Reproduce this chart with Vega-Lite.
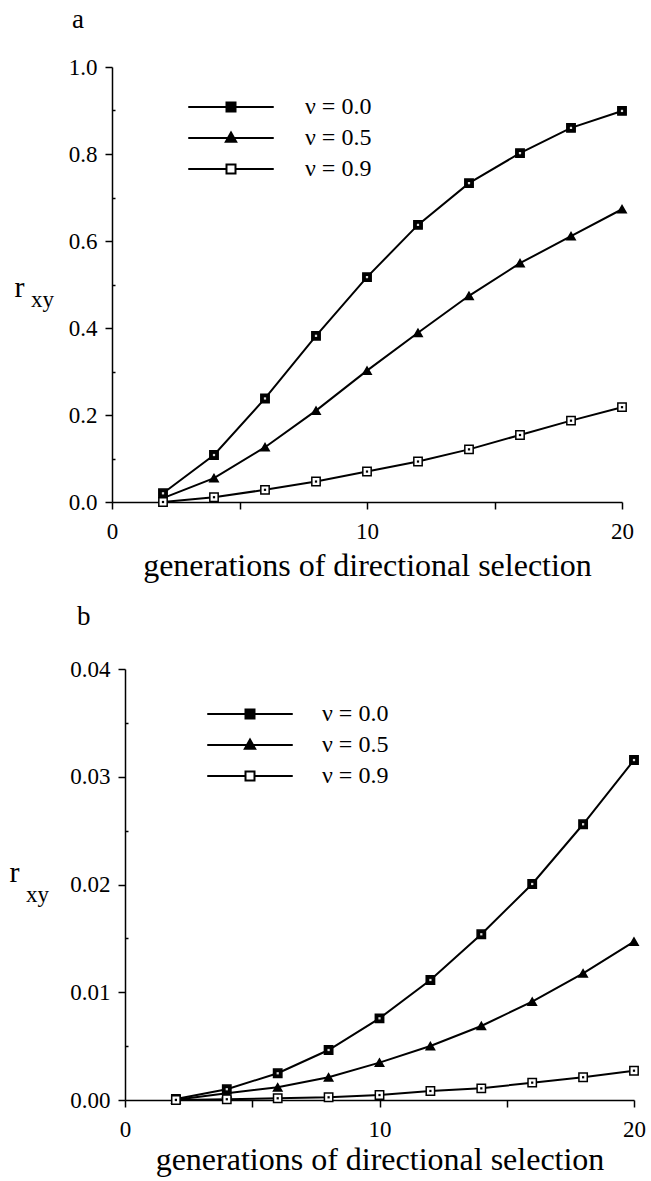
{
  "$schema": "https://vega.github.io/schema/vega-lite/v6.json",
  "background": "white",
  "padding": {"left": 9, "top": 6, "right": 5, "bottom": 5},
  "config": {
    "font": "Liberation Serif",
    "view": {"stroke": null},
    "axis": {"grid": false, "domainColor": "black", "domainWidth": 1.5, "tickColor": "black", "tickWidth": 1.5, "labelColor": "black", "titleColor": "black", "labelFont": "Liberation Serif", "titleFont": "Liberation Serif", "titleFontWeight": "normal"},
    "title": {"font": "Liberation Serif", "fontWeight": "normal", "color": "black"},
    "legend": {"labelFont": "Liberation Serif", "labelColor": "black"}
  },
  "datasets": {
    "a": [
      {"gen": 2, "r": 0.020, "series": "ν = 0.0"},
      {"gen": 4, "r": 0.108, "series": "ν = 0.0"},
      {"gen": 6, "r": 0.238, "series": "ν = 0.0"},
      {"gen": 8, "r": 0.382, "series": "ν = 0.0"},
      {"gen": 10, "r": 0.517, "series": "ν = 0.0"},
      {"gen": 12, "r": 0.637, "series": "ν = 0.0"},
      {"gen": 14, "r": 0.733, "series": "ν = 0.0"},
      {"gen": 16, "r": 0.802, "series": "ν = 0.0"},
      {"gen": 18, "r": 0.860, "series": "ν = 0.0"},
      {"gen": 20, "r": 0.899, "series": "ν = 0.0"},
      {"gen": 2, "r": 0.009, "series": "ν = 0.5"},
      {"gen": 4, "r": 0.055, "series": "ν = 0.5"},
      {"gen": 6, "r": 0.126, "series": "ν = 0.5"},
      {"gen": 8, "r": 0.210, "series": "ν = 0.5"},
      {"gen": 10, "r": 0.302, "series": "ν = 0.5"},
      {"gen": 12, "r": 0.389, "series": "ν = 0.5"},
      {"gen": 14, "r": 0.474, "series": "ν = 0.5"},
      {"gen": 16, "r": 0.549, "series": "ν = 0.5"},
      {"gen": 18, "r": 0.611, "series": "ν = 0.5"},
      {"gen": 20, "r": 0.673, "series": "ν = 0.5"},
      {"gen": 2, "r": 0.000, "series": "ν = 0.9"},
      {"gen": 4, "r": 0.011, "series": "ν = 0.9"},
      {"gen": 6, "r": 0.028, "series": "ν = 0.9"},
      {"gen": 8, "r": 0.047, "series": "ν = 0.9"},
      {"gen": 10, "r": 0.070, "series": "ν = 0.9"},
      {"gen": 12, "r": 0.093, "series": "ν = 0.9"},
      {"gen": 14, "r": 0.121, "series": "ν = 0.9"},
      {"gen": 16, "r": 0.154, "series": "ν = 0.9"},
      {"gen": 18, "r": 0.187, "series": "ν = 0.9"},
      {"gen": 20, "r": 0.218, "series": "ν = 0.9"}
    ],
    "b": [
      {"gen": 2, "r": 0.0001, "series": "ν = 0.0"},
      {"gen": 4, "r": 0.0010, "series": "ν = 0.0"},
      {"gen": 6, "r": 0.00248, "series": "ν = 0.0"},
      {"gen": 8, "r": 0.00464, "series": "ν = 0.0"},
      {"gen": 10, "r": 0.00758, "series": "ν = 0.0"},
      {"gen": 12, "r": 0.01114, "series": "ν = 0.0"},
      {"gen": 14, "r": 0.01538, "series": "ν = 0.0"},
      {"gen": 16, "r": 0.02005, "series": "ν = 0.0"},
      {"gen": 18, "r": 0.02559, "series": "ν = 0.0"},
      {"gen": 20, "r": 0.03155, "series": "ν = 0.0"},
      {"gen": 2, "r": 0.00003, "series": "ν = 0.5"},
      {"gen": 4, "r": 0.00062, "series": "ν = 0.5"},
      {"gen": 6, "r": 0.00118, "series": "ν = 0.5"},
      {"gen": 8, "r": 0.00211, "series": "ν = 0.5"},
      {"gen": 10, "r": 0.00347, "series": "ν = 0.5"},
      {"gen": 12, "r": 0.00501, "series": "ν = 0.5"},
      {"gen": 14, "r": 0.00687, "series": "ν = 0.5"},
      {"gen": 16, "r": 0.00913, "series": "ν = 0.5"},
      {"gen": 18, "r": 0.01176, "series": "ν = 0.5"},
      {"gen": 20, "r": 0.01470, "series": "ν = 0.5"},
      {"gen": 2, "r": 0.0, "series": "ν = 0.9"},
      {"gen": 4, "r": 0.00007, "series": "ν = 0.9"},
      {"gen": 6, "r": 0.00016, "series": "ν = 0.9"},
      {"gen": 8, "r": 0.00025, "series": "ν = 0.9"},
      {"gen": 10, "r": 0.00046, "series": "ν = 0.9"},
      {"gen": 12, "r": 0.00084, "series": "ν = 0.9"},
      {"gen": 14, "r": 0.00108, "series": "ν = 0.9"},
      {"gen": 16, "r": 0.00161, "series": "ν = 0.9"},
      {"gen": 18, "r": 0.00211, "series": "ν = 0.9"},
      {"gen": 20, "r": 0.00272, "series": "ν = 0.9"}
    ]
  },
  "columns": 1,
  "spacing": 22,
  "resolve": {"scale": {"shape": "independent", "fill": "independent", "color": "independent"}},
  "concat": [
    {
      "title": {"text": "a", "anchor": "start", "frame": "group", "fontSize": 27, "dx": -40, "offset": 22},
      "width": 510,
      "height": 435,
      "data": {"name": "a"},
      "layer": [
        {
          "mark": {"type": "line", "color": "black", "strokeWidth": 2},
          "encoding": {
            "x": {"field": "gen", "type": "quantitative", "scale": {"domain": [0, 20], "nice": false},
              "axis": {"values": [0, 5, 10, 15, 20], "labelExpr": "datum.value % 10 === 0 ? datum.label : ''", "title": "generations of directional selection", "titleFontSize": 32, "labelFontSize": 23, "tickSize": 7, "labelPadding": 11, "titlePadding": 7, "labelFlush": false}},
            "y": {"field": "r", "type": "quantitative", "scale": {"domain": [0, 1], "nice": false},
              "axis": {"values": [0, 0.2, 0.4, 0.6, 0.8, 1], "format": ".1f", "labelFontSize": 23, "tickSize": 7, "labelPadding": 8, "title": "r", "titleAngle": 0, "titleFontSize": 30, "titleX": -93, "titleY": 220, "titleAlign": "center", "titleBaseline": "middle", "labelFlush": false}},
            "detail": {"field": "series"}
          }
        },
        {
          "mark": {"type": "point", "filled": true, "stroke": "black", "strokeWidth": 1.5, "size": 70, "opacity": 1},
          "encoding": {
            "x": {"field": "gen", "type": "quantitative"},
            "y": {"field": "r", "type": "quantitative",
              "axis": {"orient": "left", "values": [0.1, 0.3, 0.5, 0.7, 0.9], "labels": false, "domain": false, "tickSize": -3, "title": "xy", "titleAngle": 0, "titleFontSize": 23, "titleX": -70, "titleY": 232, "titleAlign": "center", "titleBaseline": "middle"}},
            "fill": {"field": "series", "type": "nominal", "legend": null,
              "scale": {"range": ["black", "black", "white"]}},
            "shape": {"field": "series", "type": "nominal", "legend": null,
              "scale": {"range": ["square", "triangle-up", "square"]}}
          }
        },
        {
          "mark": {"type": "point", "filled": true, "shape": "square", "size": 5, "opacity": 1},
          "encoding": {
            "x": {"field": "gen", "type": "quantitative"},
            "y": {"field": "r", "type": "quantitative", "axis": null},
            "color": {"field": "series", "type": "nominal", "legend": null,
              "scale": {"range": ["#dddddd", "transparent", "black"]}}
          }
        },
        {
          "mark": {"type": "point", "filled": true, "stroke": "black", "strokeWidth": 2, "size": 81, "opacity": 0},
          "encoding": {
            "x": {"field": "gen", "type": "quantitative"},
            "y": {"field": "r", "type": "quantitative", "axis": null},
            "fill": {"field": "series", "type": "nominal",
              "scale": {"domain": ["ν = 0.0", "ν = 0.5", "ν = 0.9"], "range": ["black", "black", "white"]},
              "legend": {"orient": "none", "legendX": 107, "legendY": 28, "title": null, "labelFontSize": 24, "symbolSize": 81, "symbolOpacity": 1, "symbolStrokeWidth": 2, "labelOffset": 62, "rowPadding": 7, "padding": 0}},
            "shape": {"field": "series", "type": "nominal",
              "scale": {"domain": ["ν = 0.0", "ν = 0.5", "ν = 0.9"], "range": ["M-9.5,0H9.5M-1,-1H1V1H-1Z", "M-9.5,0H9.5M0,-1.2L1.15,0.85H-1.15Z", "M-9.5,0H-1M1,0H9.5M-1,-1H1V1H-1Z"]},
              "legend": {"orient": "none", "legendX": 107, "legendY": 28, "title": null, "labelFontSize": 24, "symbolSize": 81, "symbolOpacity": 1, "symbolStrokeWidth": 2, "labelOffset": 62, "rowPadding": 7, "padding": 0}}
          }
        }
      ],
      "resolve": {"axis": {"y": "independent"}, "scale": {"shape": "independent", "fill": "independent"}}
    },
    {
      "title": {"text": "b", "anchor": "start", "frame": "group", "fontSize": 27, "dx": -35, "offset": 27},
      "width": 522,
      "height": 431,
      "data": {"name": "b"},
      "layer": [
        {
          "mark": {"type": "line", "color": "black", "strokeWidth": 2},
          "encoding": {
            "x": {"field": "gen", "type": "quantitative", "scale": {"domain": [0, 20], "nice": false, "range": [13, 522]},
              "axis": {"values": [0, 5, 10, 15, 20], "labelExpr": "datum.value % 10 === 0 ? datum.label : ''", "title": "generations of directional selection", "titleFontSize": 32, "labelFontSize": 23, "tickSize": 7, "labelPadding": 11, "titlePadding": 3, "labelFlush": false}},
            "y": {"field": "r", "type": "quantitative", "scale": {"domain": [0, 0.04], "nice": false},
              "axis": {"offset": -13, "values": [0, 0.01, 0.02, 0.03, 0.04], "format": ".2f", "labelFontSize": 23, "tickSize": 7, "labelPadding": 8, "title": "r", "titleAngle": 0, "titleFontSize": 30, "titleX": -111, "titleY": 203, "titleAlign": "center", "titleBaseline": "middle", "labelFlush": false}},
            "detail": {"field": "series"}
          }
        },
        {
          "mark": {"type": "point", "filled": true, "stroke": "black", "strokeWidth": 1.5, "size": 70, "opacity": 1},
          "encoding": {
            "x": {"field": "gen", "type": "quantitative"},
            "y": {"field": "r", "type": "quantitative",
              "axis": {"orient": "left", "offset": -13, "values": [0.005, 0.015, 0.025, 0.035], "labels": false, "domain": false, "tickSize": -3, "title": "xy", "titleAngle": 0, "titleFontSize": 23, "titleX": -88, "titleY": 225, "titleAlign": "center", "titleBaseline": "middle"}},
            "fill": {"field": "series", "type": "nominal", "legend": null,
              "scale": {"range": ["black", "black", "white"]}},
            "shape": {"field": "series", "type": "nominal", "legend": null,
              "scale": {"range": ["square", "triangle-up", "square"]}}
          }
        },
        {
          "mark": {"type": "point", "filled": true, "shape": "square", "size": 5, "opacity": 1},
          "encoding": {
            "x": {"field": "gen", "type": "quantitative"},
            "y": {"field": "r", "type": "quantitative", "axis": null},
            "color": {"field": "series", "type": "nominal", "legend": null,
              "scale": {"range": ["#dddddd", "transparent", "black"]}}
          }
        },
        {
          "mark": {"type": "point", "filled": true, "stroke": "black", "strokeWidth": 2, "size": 81, "opacity": 0},
          "encoding": {
            "x": {"field": "gen", "type": "quantitative"},
            "y": {"field": "r", "type": "quantitative", "axis": null},
            "fill": {"field": "series", "type": "nominal",
              "scale": {"domain": ["ν = 0.0", "ν = 0.5", "ν = 0.9"], "range": ["black", "black", "white"]},
              "legend": {"orient": "none", "legendX": 126, "legendY": 33, "title": null, "labelFontSize": 24, "symbolSize": 81, "symbolOpacity": 1, "symbolStrokeWidth": 2, "labelOffset": 60, "rowPadding": 7, "padding": 0}},
            "shape": {"field": "series", "type": "nominal",
              "scale": {"domain": ["ν = 0.0", "ν = 0.5", "ν = 0.9"], "range": ["M-9.5,0H9.5M-1,-1H1V1H-1Z", "M-9.5,0H9.5M0,-1.2L1.15,0.85H-1.15Z", "M-9.5,0H-1M1,0H9.5M-1,-1H1V1H-1Z"]},
              "legend": {"orient": "none", "legendX": 126, "legendY": 33, "title": null, "labelFontSize": 24, "symbolSize": 81, "symbolOpacity": 1, "symbolStrokeWidth": 2, "labelOffset": 60, "rowPadding": 7, "padding": 0}}
          }
        }
      ],
      "resolve": {"axis": {"y": "independent"}, "scale": {"shape": "independent", "fill": "independent"}}
    }
  ]
}
